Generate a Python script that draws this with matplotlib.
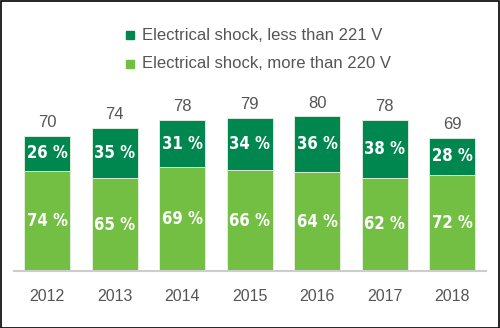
import matplotlib.pyplot as plt
from matplotlib.patches import Rectangle

years = ["2012", "2013", "2014", "2015", "2016", "2017", "2018"]
totals = [70, 74, 78, 79, 80, 78, 69]
pct_low = [26, 35, 31, 34, 36, 38, 28]    # less than 221 V
pct_high = [74, 65, 69, 66, 64, 62, 72]   # more than 220 V

dark = "#00874f"
light = "#72bf44"
grey = "#555555"

fig = plt.figure(figsize=(5, 3.28), dpi=100)
ax = fig.add_axes([14 / 500, 57 / 328, 472 / 500, 174 / 328])

x = list(range(len(years)))
high_vals = [t * p / 100 for t, p in zip(totals, pct_high)]
low_vals = [t - h for t, h in zip(totals, high_vals)]

ax.bar(x, high_vals, width=0.68, color=light, edgecolor="#e8f3e0", linewidth=0.6)
ax.bar(x, low_vals, width=0.68, bottom=high_vals, color=dark, edgecolor="#e8f3e0", linewidth=0.6)

pct_font = dict(family="DejaVu Sans", stretch="condensed", weight="bold",
                size=12, color="white", ha="center", va="center")
for i in x:
    ax.text(i, high_vals[i] / 2, f"{pct_high[i]} %", **pct_font)
    ax.text(i, high_vals[i] + low_vals[i] / 2, f"{pct_low[i]} %", **pct_font)
    ax.text(i, totals[i] + 3, str(totals[i]), ha="center", va="bottom",
            fontsize=12, color=grey, family="Liberation Sans")

ax.set_xlim(-0.49, 6.5)
ax.set_ylim(0, 90)
ax.set_xticks(x)
ax.set_xticklabels(years, fontsize=11.5, color=grey, family="Liberation Sans")
ax.tick_params(axis="x", length=0, pad=13)
ax.set_yticks([])
for s in ["top", "right", "left"]:
    ax.spines[s].set_visible(False)
ax.spines["bottom"].set_color("#cccccc")
ax.spines["bottom"].set_linewidth(1.5)

# legend
legend_items = [("Electrical shock, less than 221 V", dark, 35),
                ("Electrical shock, more than 220 V", light, 64)]
for label, col, ypx in legend_items:
    fig.patches.append(Rectangle((126 / 500, (328 - ypx - 4) / 328), 8 / 500, 8 / 328,
                                 transform=fig.transFigure, color=col))
    fig.text(142 / 500, (328 - ypx) / 328, label, fontsize=12, color=grey,
             va="center", ha="left", family="Liberation Sans")

# outer frame
fig.patches.append(Rectangle((0.001, 0.0015), 0.997, 0.996, transform=fig.transFigure,
                             fill=False, edgecolor="black", linewidth=1.2))

fig.savefig("out.png", dpi=100)
